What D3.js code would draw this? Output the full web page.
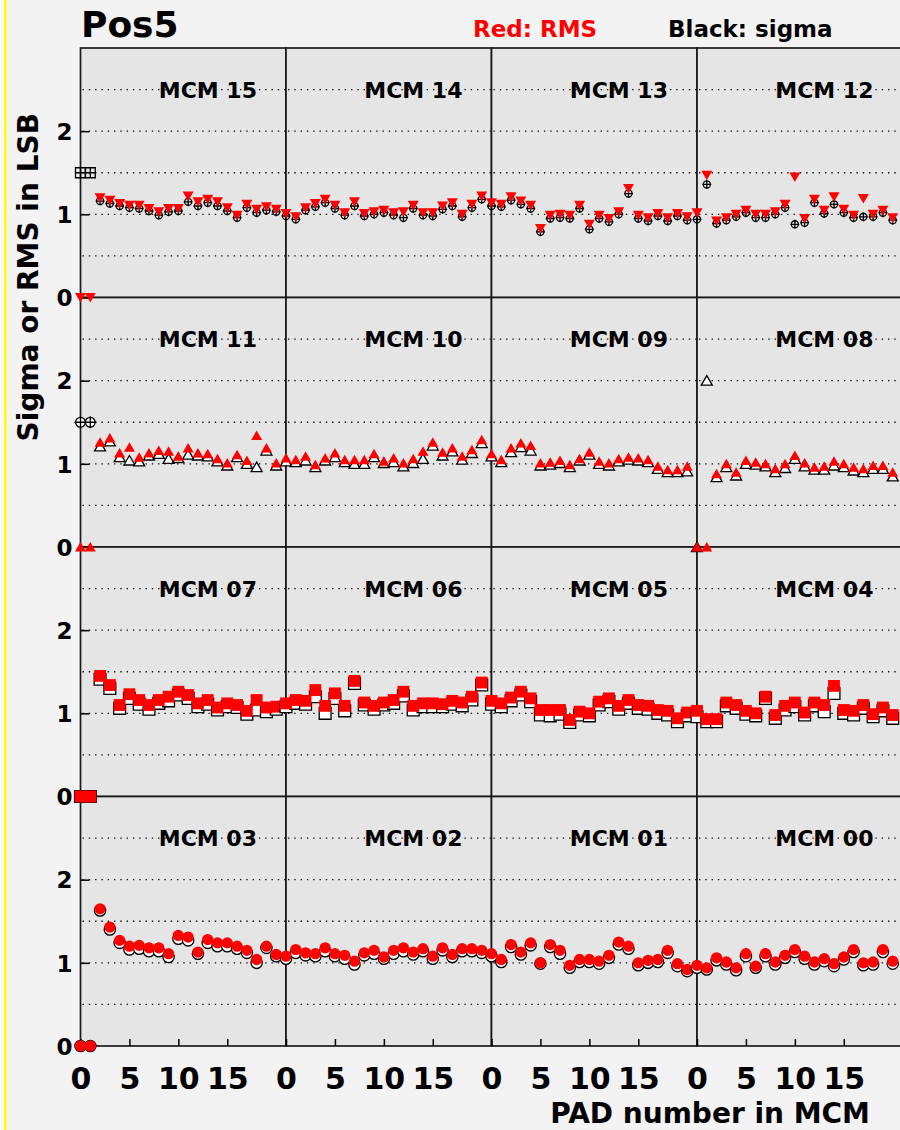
<!DOCTYPE html>
<html>
<head>
<meta charset="utf-8">
<title>Pos5</title>
<style>
body { margin: 0; background: #f3f3f3; }
svg { display: block; font-family: "DejaVu Sans", sans-serif; font-weight: bold; }
</style>
</head>
<body>
<svg width="900" height="1130"></svg>
<script src="https://cdn.jsdelivr.net/npm/d3@7"></script>
<script>
// panels in display order, row by row
var mcmNames = ["MCM 15","MCM 14","MCM 13","MCM 12",
                "MCM 11","MCM 10","MCM 09","MCM 08",
                "MCM 07","MCM 06","MCM 05","MCM 04",
                "MCM 03","MCM 02","MCM 01","MCM 00"];

// red: RMS per pad (0..20), black: sigma per pad
var rms15 = [0, 0, 1.20, 1.17, 1.13, 1.11, 1.11, 1.07, 1.03, 1.07, 1.07, 1.22, 1.15, 1.18, 1.15, 1.08, 0.99, 1.12, 1.06, 1.09, 1.06];
var sig15 = [1.5, 1.5, 1.16, 1.13, 1.10, 1.08, 1.07, 1.04, 0.99, 1.03, 1.04, 1.15, 1.10, 1.14, 1.10, 1.04, 0.96, 1.08, 1.02, 1.05, 1.03];
var rms14 = [1.01, 0.97, 1.08, 1.13, 1.18, 1.11, 1.02, 1.15, 1.01, 1.03, 1.05, 1.02, 1.03, 1.11, 1.02, 1.02, 1.10, 1.14, 1.00, 1.12, 1.22];
var sig14 = [0.98, 0.94, 1.05, 1.09, 1.14, 1.07, 0.99, 1.10, 0.98, 1.00, 1.02, 0.99, 0.96, 1.07, 0.99, 0.98, 1.06, 1.10, 0.97, 1.08, 1.18];
var rms13 = [1.14, 1.12, 1.21, 1.16, 1.11, 0.83, 0.99, 1.00, 0.99, 1.11, 0.88, 0.99, 0.95, 1.03, 1.31, 0.99, 0.96, 1.01, 0.96, 1.01, 0.97];
var sig13 = [1.10, 1.09, 1.17, 1.12, 1.07, 0.79, 0.95, 0.96, 0.95, 1.07, 0.82, 0.95, 0.91, 1.00, 1.25, 0.95, 0.92, 0.98, 0.92, 0.98, 0.93];
var rms12 = [1.02, 1.47, 0.92, 0.96, 1.00, 1.05, 1.00, 1.00, 1.03, 1.12, 1.45, 0.95, 1.18, 1.05, 1.21, 1.06, 0.99, 1.19, 1.00, 1.05, 0.96];
var sig12 = [0.94, 1.36, 0.89, 0.93, 0.97, 1.02, 0.96, 0.96, 1.00, 1.08, 0.88, 0.90, 1.14, 1.01, 1.12, 1.02, 0.96, 0.97, 0.97, 1.02, 0.93];

var rms11 = [0, 0, 1.26, 1.31, 1.13, 1.20, 1.08, 1.13, 1.16, 1.15, 1.09, 1.19, 1.13, 1.12, 1.06, 1.01, 1.11, 1.04, 1.34, 1.19, 1.01];
var sig11 = [1.5, 1.5, 1.21, 1.27, 1.08, 1.04, 1.03, 1.10, 1.12, 1.06, 1.07, 1.11, 1.10, 1.09, 1.03, 0.98, 1.08, 1.00, 0.96, 1.16, 0.98];
var rms10 = [1.07, 1.05, 1.09, 0.99, 1.07, 1.13, 1.05, 1.05, 1.05, 1.12, 1.03, 1.07, 1.01, 1.06, 1.15, 1.26, 1.14, 1.19, 1.09, 1.17, 1.29];
var sig10 = [1.03, 1.02, 1.04, 0.96, 1.04, 1.08, 1.02, 1.00, 1.00, 1.08, 1.01, 1.02, 0.97, 1.01, 1.06, 1.22, 1.10, 1.15, 1.05, 1.13, 1.25];
var rms09 = [1.12, 1.05, 1.19, 1.25, 1.22, 1.01, 1.02, 1.04, 0.99, 1.06, 1.14, 1.03, 1.01, 1.06, 1.08, 1.07, 1.05, 0.97, 0.93, 0.93, 0.97];
var sig09 = [1.09, 1.02, 1.14, 1.20, 1.16, 0.98, 0.99, 1.01, 0.96, 1.04, 1.11, 1.00, 0.98, 1.03, 1.05, 1.04, 1.02, 0.94, 0.90, 0.90, 0.91];
var rms08 = [0, 0, 0.88, 1.00, 0.90, 1.04, 1.02, 1.00, 0.94, 1.00, 1.10, 1.01, 0.96, 0.97, 1.03, 1.00, 0.96, 0.94, 0.98, 0.98, 0.90];
var sig08 = [0, 2.0, 0.84, 0.96, 0.86, 1.00, 0.99, 0.97, 0.90, 0.95, 1.06, 0.97, 0.93, 0.93, 0.98, 0.96, 0.92, 0.90, 0.94, 0.94, 0.85];

var rms07 = [0, 0, 1.45, 1.34, 1.10, 1.23, 1.16, 1.10, 1.16, 1.20, 1.26, 1.22, 1.12, 1.16, 1.07, 1.12, 1.10, 1.03, 1.16, 1.07, 1.08];
var sig07 = [0, 0, 1.41, 1.30, 1.06, 1.18, 1.11, 1.05, 1.12, 1.15, 1.22, 1.18, 1.08, 1.11, 1.04, 1.08, 1.07, 0.99, 1.04, 1.02, 1.05];
var rms06 = [1.12, 1.16, 1.15, 1.28, 1.09, 1.24, 1.09, 1.39, 1.13, 1.09, 1.13, 1.16, 1.26, 1.09, 1.12, 1.12, 1.11, 1.15, 1.13, 1.20, 1.37];
var sig06 = [1.08, 1.12, 1.11, 1.20, 1.00, 1.18, 1.03, 1.36, 1.10, 1.05, 1.10, 1.12, 1.21, 1.04, 1.08, 1.08, 1.08, 1.11, 1.09, 1.16, 1.34];
var rms05 = [1.15, 1.12, 1.19, 1.26, 1.18, 1.04, 1.04, 1.04, 0.92, 1.02, 1.00, 1.14, 1.18, 1.09, 1.16, 1.10, 1.09, 1.04, 1.03, 0.94, 1.01];
var sig05 = [1.11, 1.08, 1.15, 1.22, 1.14, 0.98, 0.97, 0.99, 0.89, 0.98, 0.97, 1.10, 1.14, 1.05, 1.12, 1.06, 1.05, 1.00, 0.98, 0.90, 0.97];
var rms04 = [1.03, 0.93, 0.93, 1.13, 1.10, 1.03, 1.00, 1.20, 0.98, 1.09, 1.13, 1.01, 1.13, 1.10, 1.33, 1.04, 1.03, 1.10, 0.99, 1.07, 0.98];
var sig04 = [0.96, 0.90, 0.90, 1.09, 1.06, 0.99, 0.97, 1.18, 0.94, 1.04, 1.08, 0.98, 1.09, 1.02, 1.24, 1.00, 0.98, 1.06, 0.96, 1.03, 0.94];

var rms03 = [0, 0, 1.65, 1.43, 1.27, 1.20, 1.21, 1.18, 1.18, 1.11, 1.33, 1.31, 1.13, 1.28, 1.24, 1.24, 1.20, 1.15, 1.04, 1.20, 1.10];
var sig03 = [0, 0, 1.63, 1.40, 1.24, 1.16, 1.17, 1.14, 1.14, 1.07, 1.29, 1.27, 1.11, 1.24, 1.20, 1.20, 1.17, 1.12, 1.00, 1.18, 1.08];
var rms02 = [1.08, 1.16, 1.12, 1.11, 1.18, 1.11, 1.09, 1.02, 1.12, 1.15, 1.07, 1.15, 1.18, 1.13, 1.17, 1.08, 1.18, 1.10, 1.17, 1.17, 1.15];
var sig02 = [1.05, 1.12, 1.09, 1.08, 1.14, 1.08, 1.05, 0.98, 1.09, 1.11, 1.05, 1.11, 1.14, 1.10, 1.14, 1.05, 1.15, 1.07, 1.14, 1.14, 1.12];
var rms01 = [1.11, 1.04, 1.22, 1.13, 1.24, 1.00, 1.22, 1.15, 0.97, 1.04, 1.04, 1.02, 1.09, 1.25, 1.20, 1.00, 1.03, 1.04, 1.15, 0.99, 0.92];
var sig01 = [1.08, 1.01, 1.19, 1.10, 1.21, 0.99, 1.19, 1.11, 0.94, 1.01, 1.01, 0.99, 1.06, 1.22, 1.17, 0.97, 1.00, 1.01, 1.12, 0.96, 0.90];
var rms00 = [0.97, 0.94, 1.06, 1.01, 0.94, 1.11, 0.96, 1.11, 1.01, 1.09, 1.16, 1.08, 1.01, 1.05, 0.99, 1.07, 1.16, 1.00, 1.01, 1.16, 1.02];
var sig00 = [0.94, 0.92, 1.03, 0.98, 0.91, 1.08, 0.94, 1.08, 0.98, 1.06, 1.13, 1.05, 0.98, 1.02, 0.96, 1.04, 1.13, 0.97, 0.98, 1.13, 0.99];

var rmsList = [rms15, rms14, rms13, rms12, rms11, rms10, rms09, rms08, rms07, rms06, rms05, rms04, rms03, rms02, rms01, rms00];
var sigList = [sig15, sig14, sig13, sig12, sig11, sig10, sig09, sig08, sig07, sig06, sig05, sig04, sig03, sig02, sig01, sig00];

var yTicks = [0, 1, 2];
var yGrid = [0.5, 1, 1.5, 2, 2.5];
var xTicks = [0, 5, 10, 15];

// marker style per row
var redShape = ["triDown", "triUp", "square", "circle"];
var blackShape = ["circlePlus", "triUpOpen", "squareOpen", "circleOpen"];
var deadShape = ["squarePlus", "circlePlusBig", null, null];

var svg = d3.select("svg");
var frameL = 80.5, frameT = 48, colW = 205.5, rowH = 249.5;

svg.append("rect").attr("width", 900).attr("height", 1130).attr("fill", "#f3f3f3");
svg.append("rect").attr("x", 0).attr("width", 4).attr("height", 1130).attr("fill", "#fbfbfb");
svg.append("rect").attr("x", 4).attr("width", 2.5).attr("height", 1130).attr("fill", "#ffff00");

// layers so markers sit above every frame
var bgLayer = svg.append("g");
var axisLayer = svg.append("g");
var markLayer = svg.append("g");

function shapePath(kind) {
  switch (kind) {
    case "triDown": return "M-5.5,-4.5L5.5,-4.5L0,5Z";
    case "triUp": case "triUpOpen": return "M0,-5L5.5,4.5L-5.5,4.5Z";
    case "square": case "squareOpen": return d3.symbol(d3.symbolSquare, 140)();
    case "circle": case "circleOpen": return d3.symbol(d3.symbolCircle, 100)();
    case "circlePlus": return d3.symbol(d3.symbolCircle, 40)() + "M-4.5,0L4.5,0M0,-4.5L0,4.5";
    case "circlePlusBig": return d3.symbol(d3.symbolCircle, 75)() + "M-6,0L6,0M0,-6L0,6";
    case "squarePlus": return "M-5,-5L5,-5L5,5L-5,5ZM-5,0L5,0M0,-5L0,5";
  }
}

mcmNames.forEach(function(name, i) {
  var r = Math.floor(i / 4), c = i % 4;
  var x = d3.scaleLinear().domain([0, 21]).range([frameL + c * colW, frameL + (c + 1) * colW]);
  var y = d3.scaleLinear().domain([0, 3]).range([frameT + (r + 1) * rowH, frameT + r * rowH]);
  var g = bgLayer.append("g");

  g.append("rect")
    .attr("x", x(0)).attr("y", y(3))
    .attr("width", x(21) - x(0)).attr("height", y(0) - y(3))
    .attr("fill", "#e5e5e5");

  g.selectAll("line.grid").data(yGrid).enter().append("line")
    .attr("class", "grid")
    .attr("x1", x(0) + 2).attr("x2", x(21))
    .attr("y1", function(d) { return y(d); }).attr("y2", function(d) { return y(d); })
    .attr("stroke", "#111").attr("stroke-width", 1.4)
    .attr("stroke-dasharray", "1.4 4.9");

  g.append("text")
    .attr("x", x(8)).attr("y", y(2.5))
    .attr("dy", "0.36em")
    .attr("font-size", 22)
    .attr("fill", "#000")
    .text(name);

  g.append("rect")
    .attr("x", x(0)).attr("y", y(3))
    .attr("width", x(21) - x(0)).attr("height", y(0) - y(3))
    .attr("fill", "none").attr("stroke", "#1a1a1a").attr("stroke-width", 1.7);

  if (c === 0) {
    var ay = axisLayer.append("g")
      .attr("transform", "translate(" + x(0) + ",0)")
      .call(d3.axisLeft(y).tickValues(yTicks).tickFormat(d3.format("d")).tickSize(-9).tickPadding(8));
    ay.select(".domain").remove();
    ay.selectAll("line").attr("stroke", "#000").attr("stroke-width", 1.5);
    ay.selectAll("text").attr("font-size", 23).attr("font-family", "DejaVu Sans")
      .attr("font-weight", "bold").attr("fill", "#000").attr("dy", "0.36em");
  }
  if (r === 3) {
    var ax = axisLayer.append("g")
      .attr("transform", "translate(0," + y(0) + ")")
      .call(d3.axisBottom(x).tickValues(xTicks).tickFormat(d3.format("d")).tickSize(-7).tickPadding(22));
    ax.select(".domain").remove();
    ax.selectAll("line").attr("stroke", "#000").attr("stroke-width", 1.5);
    ax.selectAll("text").attr("font-size", 30).attr("font-family", "DejaVu Sans")
      .attr("font-weight", "bold").attr("fill", "#000");
  }

  var rmsVals = rmsList[i], sigVals = sigList[i];
  var pts = rmsVals.map(function(v, p) { return { pad: p, rms: v, sig: sigVals[p] }; });
  var m = markLayer.append("g");

  // black: sigma (open markers), drawn first
  m.selectAll("path.sig").data(pts).enter().append("path")
    .attr("class", "sig")
    .attr("transform", function(d) { return "translate(" + x(d.pad) + "," + y(d.sig) + ")"; })
    .attr("d", function(d) {
      var dead = c === 0 && d.rms === 0 && deadShape[r];
      return shapePath(dead ? deadShape[r] : blackShape[r]);
    })
    .attr("fill", blackShape[r] === "circlePlus" ? "none" : "#fff")
    .attr("stroke", "#000").attr("stroke-width", 1.3);

  // red: RMS (filled markers)
  m.selectAll("path.rms").data(pts).enter().append("path")
    .attr("class", "rms")
    .attr("transform", function(d) { return "translate(" + x(d.pad) + "," + y(d.rms) + ")"; })
    .attr("d", shapePath(redShape[r]))
    .attr("fill", "#ff0000");
});

svg.append("text").attr("x", 81).attr("y", 37).attr("font-size", 36).attr("fill", "#000").text("Pos5");
svg.append("text").attr("x", 473).attr("y", 37).attr("font-size", 23).attr("fill", "#ff0000").text("Red: RMS");
svg.append("text").attr("x", 668).attr("y", 37).attr("font-size", 23).attr("fill", "#000").text("Black: sigma");
svg.append("text")
  .attr("transform", "translate(38,113) rotate(-90)")
  .attr("text-anchor", "end")
  .attr("font-size", 28).attr("fill", "#000")
  .text("Sigma or RMS in LSB");
svg.append("text")
  .attr("x", 870).attr("y", 1123)
  .attr("text-anchor", "end")
  .attr("font-size", 28).attr("fill", "#000")
  .text("PAD number in MCM");
</script>
</body>
</html>
